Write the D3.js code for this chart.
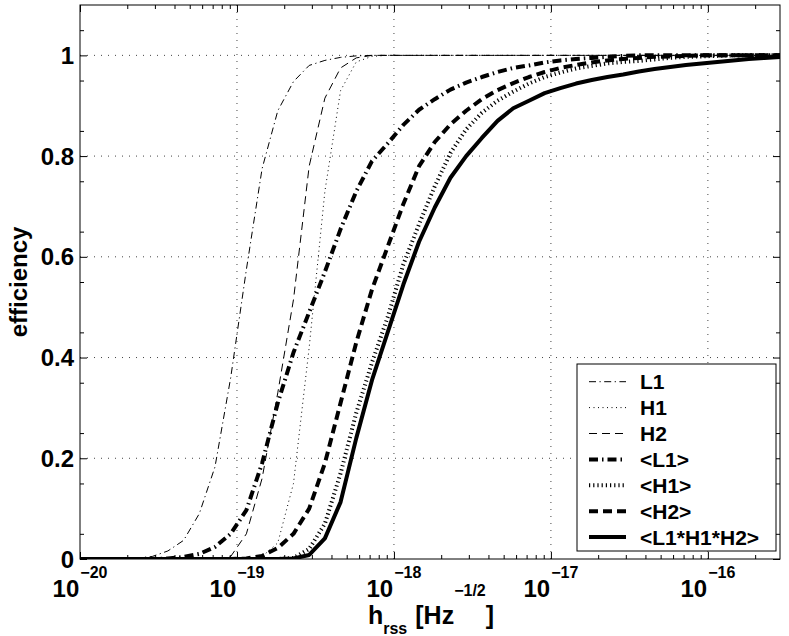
<!DOCTYPE html>
<html>
<head>
<meta charset="utf-8">
<script src="https://cdn.jsdelivr.net/npm/d3@7"></script>
<style>
body { margin: 0; background: #fff; }
text { font-family: "Liberation Sans", Arial, Helvetica, sans-serif; font-weight: bold; fill: #000; }
</style>
</head>
<body>
<div id="d3-container"></div>
<script>
// log10 of hrss sample points
const hrssExp = [-20.04, -19.94, -19.84, -19.74, -19.64, -19.54, -19.44, -19.34, -19.24, -19.14, -19.04,
    -18.94, -18.84, -18.74, -18.64, -18.54, -18.44, -18.34, -18.24, -18.14, -18.04,
    -17.94, -17.84, -17.74, -17.64, -17.54, -17.44, -17.34, -17.24, -17.14, -17.04,
    -16.94, -16.84, -16.74, -16.64, -16.54, -16.44, -16.34, -16.24, -16.14, -16.04,
    -15.94, -15.84, -15.74, -15.64, -15.54];

// efficiency curves
const effL1 = [0, 0, 0, 0, 0.002, 0.005, 0.016, 0.037, 0.09, 0.183, 0.36,
    0.575, 0.775, 0.89, 0.948, 0.98, 0.99, 0.996, 0.999, 1, 1,
    1, 1, 1, 1, 1, 1, 1, 1, 1, 1,
    1, 1, 1, 1, 1, 1, 1, 1, 1, 1,
    1, 1, 1, 1, 1];
const effH1 = [0, 0, 0, 0, 0, 0, 0, 0, 0, 0, 0,
    0, 0.005, 0.032, 0.15, 0.42, 0.73, 0.93, 0.987, 0.998, 1,
    1, 1, 1, 1, 1, 1, 1, 1, 1, 1,
    1, 1, 1, 1, 1, 1, 1, 1, 1, 1,
    1, 1, 1, 1, 1];
const effH2 = [0, 0, 0, 0, 0, 0, 0, 0, 0, 0, 0.005,
    0.05, 0.16, 0.33, 0.515, 0.78, 0.915, 0.975, 0.995, 1, 1,
    1, 1, 1, 1, 1, 1, 1, 1, 1, 1,
    1, 1, 1, 1, 1, 1, 1, 1, 1, 1,
    1, 1, 1, 1, 1];
const effL1avg = [0, 0, 0, 0, 0, 0, 0.001, 0.004, 0.01, 0.024, 0.05,
    0.097, 0.19, 0.31, 0.41, 0.49, 0.57, 0.655, 0.73, 0.79, 0.825,
    0.862, 0.892, 0.913, 0.932, 0.946, 0.957, 0.967, 0.975, 0.98, 0.986,
    0.99, 0.993, 0.995, 0.997, 0.999, 1, 1, 1, 1, 1,
    1, 1, 1, 1, 1];
const effH1avg = [0, 0, 0, 0, 0, 0, 0, 0, 0, 0, 0,
    0, 0, 0, 0.002, 0.02, 0.07, 0.17, 0.29, 0.39, 0.48,
    0.585, 0.665, 0.74, 0.806, 0.853, 0.886, 0.91, 0.928, 0.944, 0.957,
    0.966, 0.974, 0.979, 0.984, 0.987, 0.989, 0.992, 0.995, 0.997, 0.998,
    0.999, 1, 1, 1, 1];
const effH2avg = [0, 0, 0, 0, 0, 0, 0, 0, 0, 0, 0,
    0.001, 0.006, 0.022, 0.05, 0.1, 0.19, 0.31, 0.43, 0.535, 0.62,
    0.705, 0.78, 0.828, 0.863, 0.89, 0.913, 0.931, 0.945, 0.957, 0.967,
    0.975, 0.981, 0.986, 0.99, 0.993, 0.995, 0.997, 0.998, 0.999, 1,
    1, 1, 1, 1, 1];
const effAll = [0, 0, 0, 0, 0, 0, 0, 0, 0, 0, 0,
    0, 0, 0, 0.001, 0.008, 0.041, 0.113, 0.24, 0.355, 0.45,
    0.545, 0.63, 0.698, 0.757, 0.8, 0.836, 0.87, 0.895, 0.91, 0.925,
    0.935, 0.944, 0.951, 0.957, 0.962, 0.968, 0.973, 0.977, 0.981, 0.984,
    0.987, 0.99, 0.993, 0.995, 0.997];

const seriesNames = ['L1', 'H1', 'H2', '<L1>', '<H1>', '<H2>', '<L1*H1*H2>'];
const xTickExp = [-20, -19, -18, -17, -16];
const yTickLabels = ['0', '0.2', '0.4', '0.6', '0.8', '1'];

function drawChart() {
    d3.select("#d3-container").selectAll("*").remove()

    const width = 789;
    const height = 636;
    const margin = { top: 5, bottom: 77, left: 80, right: 9 };

    const svg = d3.select('#d3-container')
        .append('svg')
        .attr('width', width)
        .attr('height', height);

    const x = d3.scaleLog()
        .domain([1e-20, 2.88e-16])
        .range([margin.left, width - margin.right])
    const y = d3.scaleLinear()
        .domain([0, 1.1])
        .range([height - margin.bottom, margin.top])

    const x0 = margin.left, x1 = width - margin.right;
    const y0 = height - margin.bottom, y1 = margin.top;

    // grid
    const grid = svg.append("g")
        .attr("stroke", "#444")
        .attr("stroke-width", 1)
        .attr("stroke-dasharray", "1,6");
    grid.selectAll(".gx")
        .data(xTickExp.slice(1))
        .join("line")
        .attr("x1", d => x(Math.pow(10, d))).attr("x2", d => x(Math.pow(10, d)))
        .attr("y1", y0).attr("y2", y1);
    grid.selectAll(".gy")
        .data(yTickLabels.slice(1))
        .join("line")
        .attr("y1", d => y(+d)).attr("y2", d => y(+d))
        .attr("x1", x0).attr("x2", x1);

    // ticks (inside, all four sides)
    const minorX = [];
    for (let e = -20; e <= -16; e++) {
        for (let m = 2; m <= 9; m++) {
            const v = m * Math.pow(10, e);
            if (v < 2.88e-16) minorX.push(v);
        }
    }
    const majorX = xTickExp.map(e => Math.pow(10, e));
    const minorY = d3.range(0.05, 1.1, 0.1);
    const majorY = yTickLabels.map(Number);

    function ticksX(g, ypos, dir) {
        g.append("g").attr("transform", `translate(0,${ypos})`)
            .call(d3.axisBottom(x).tickValues(majorX).tickSize(7 * dir).tickFormat(""));
        g.append("g").attr("transform", `translate(0,${ypos})`)
            .call(d3.axisBottom(x).tickValues(minorX).tickSize(4 * dir).tickFormat(""));
    }
    function ticksY(g, xpos, dir) {
        g.append("g").attr("transform", `translate(${xpos},0)`)
            .call(d3.axisRight(y).tickValues(majorY).tickSize(7 * dir).tickFormat(""));
        g.append("g").attr("transform", `translate(${xpos},0)`)
            .call(d3.axisRight(y).tickValues(minorY).tickSize(4 * dir).tickFormat(""));
    }
    const tg = svg.append("g");
    ticksX(tg, y0, -1);
    ticksX(tg, y1, 1);
    ticksY(tg, x0, 1);
    ticksY(tg, x1, -1);
    tg.selectAll(".domain").remove();
    tg.selectAll("line").attr("stroke", "#000");

    // curves
    const styles = [
        { data: effL1, w: 1, dash: "7,3.5,1.2,3.5" },
        { data: effH1, w: 1, dash: "1,3.5" },
        { data: effH2, w: 1, dash: "8,5" },
        { data: effL1avg, w: 4, dash: "9,4,1.5,4" },
        { data: effH1avg, w: 4, dash: "1.2,3" },
        { data: effH2avg, w: 4, dash: "9,5" },
        { data: effAll, w: 4, dash: null }
    ];

    svg.append("clipPath").attr("id", "plotclip")
        .append("rect")
        .attr("x", x0).attr("y", y1)
        .attr("width", x1 - x0).attr("height", y0 - y1);

    const line = d3.line()
        .x(d => x(Math.pow(10, d[0])))
        .y(d => y(d[1]));

    svg.append("g")
        .attr("clip-path", "url(#plotclip)")
        .selectAll("path")
        .data(styles)
        .join("path")
        .attr("d", s => line(hrssExp.map((e, i) => [e, s.data[i]])))
        .attr("fill", "none")
        .attr("stroke", "#000")
        .attr("stroke-width", s => s.w)
        .attr("stroke-linejoin", "round")
        .attr("stroke-dasharray", s => s.dash);

    // frame
    svg.append("rect")
        .attr("x", x0).attr("y", y1)
        .attr("width", x1 - x0).attr("height", y0 - y1)
        .attr("fill", "none")
        .attr("stroke", "#000")
        .attr("stroke-width", 1);

    // y tick labels
    svg.append("g")
        .selectAll("text")
        .data(yTickLabels)
        .join("text")
        .attr("x", x0 - 6)
        .attr("y", d => y(+d))
        .attr("dy", "0.36em")
        .attr("text-anchor", "end")
        .attr("font-size", "24px")
        .text(d => d);

    // pieces of text laid out one after another, centred on cx
    function richText(parts, cx, baseY) {
        const g = svg.append("g");
        const nodes = parts.map(p => g.append("text")
            .attr("y", baseY + p.dy)
            .attr("font-size", p.size + "px")
            .attr("xml:space", "preserve")
            .style("white-space", "pre")
            .text(p.t));
        const widths = nodes.map(n => n.node().getComputedTextLength());
        const total = d3.sum(widths) + d3.sum(parts, p => p.gap || 0);
        let cur = cx - total / 2;
        nodes.forEach((n, i) => {
            cur += parts[i].gap || 0;
            n.attr("x", cur);
            cur += widths[i];
        });
    }

    // x tick labels with exponents
    xTickExp.forEach(e => {
        richText([
            { t: "10", size: 24, dy: 0 },
            { t: "\u2212" + Math.abs(e), size: 16, dy: -19, gap: 1 }
        ], x(Math.pow(10, e)), 597);
    });

    // axis labels
    richText([
        { t: "h", size: 25, dy: 0 },
        { t: "rss", size: 16, dy: 10 },
        { t: "[Hz", size: 25, dy: 0, gap: 8 },
        { t: "\u22121/2", size: 16, dy: -28 },
        { t: "]", size: 25, dy: 0 }
    ], 431, 624);

    svg.append("text")
        .attr("transform", `translate(27,${(y0 + y1) / 2}) rotate(-90)`)
        .attr("text-anchor", "middle")
        .attr("font-size", "24px")
        .text("efficiency");

    // legend
    const lg = svg.append("g").attr("transform", "translate(577,364)");
    lg.append("rect")
        .attr("width", 199).attr("height", 187)
        .attr("fill", "#fff")
        .attr("stroke", "#000")
        .attr("stroke-width", 1);
    const items = lg.selectAll(".item")
        .data(seriesNames)
        .join("g")
        .attr("transform", (d, i) => `translate(0,${17.7 + i * 25.9})`);
    items.append("line")
        .attr("x1", 12).attr("x2", 49)
        .attr("stroke", "#000")
        .attr("stroke-width", (d, i) => styles[i].w)
        .attr("stroke-dasharray", (d, i) => styles[i].dash);
    items.append("text")
        .attr("x", 63)
        .attr("dy", "0.36em")
        .attr("font-size", "21px")
        .text(d => d);

    svg.node();
}

drawChart();
</script>
</body>
</html>
